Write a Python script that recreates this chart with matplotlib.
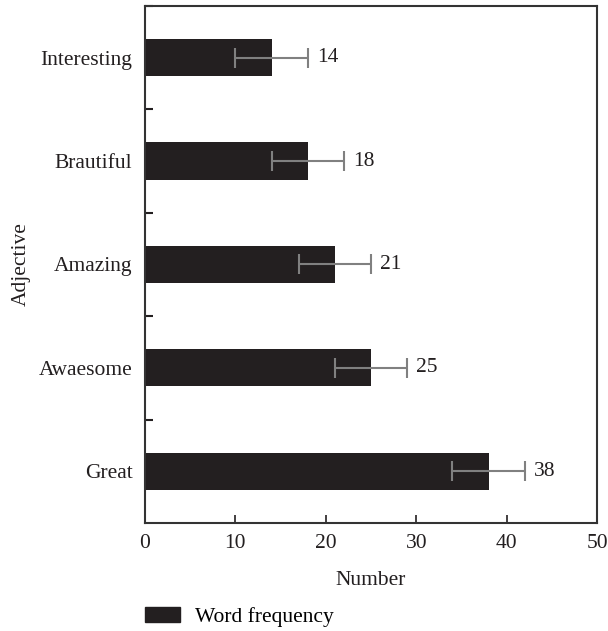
import matplotlib
matplotlib.use("Agg")
import matplotlib.pyplot as plt
from matplotlib.patches import Patch

plt.rcParams["font.family"] = ["Liberation Serif", "DejaVu Serif"]

adjectives = ["Great", "Awaesome", "Amazing", "Brautiful", "Interesting"]
frequency = [38, 25, 21, 18, 14]
errors = [4, 4, 4, 4, 4]

bar_color = "#231f20"
err_color = "#808080"
fs = 15.5

fig = plt.figure(figsize=(6.08, 6.31), dpi=100)
ax = fig.add_axes([0.2385, 0.1712, 0.7435, 0.8193])

pos = list(range(len(adjectives)))
ax.barh(pos, frequency, height=0.36, color=bar_color)
ax.errorbar(frequency, pos, xerr=errors, fmt="none", ecolor=err_color,
            elinewidth=1.5, capsize=7, capthick=1.5)

for y, v, e in zip(pos, frequency, errors):
    ax.text(v + e + 1.0, y, str(v), va="center", ha="left", fontsize=fs, color="#231f20")

ax.set_xlim(0, 50)
ax.set_ylim(-0.5, len(adjectives) - 0.5)
ax.set_xticks([0, 10, 20, 30, 40, 50])
ax.set_yticks(pos)
ax.set_yticklabels(adjectives)
ax.set_yticks([p + 0.5 for p in pos], minor=True)

ax.tick_params(axis="x", direction="in", length=6, width=1.2, labelsize=fs, colors="#231f20", pad=8)
ax.tick_params(axis="y", which="major", length=0, labelsize=fs, colors="#231f20", pad=9)
ax.tick_params(axis="y", which="minor", direction="in", length=6, width=1.5, colors="#231f20")

for s in ax.spines.values():
    s.set_linewidth(1.5)
    s.set_color("#333333")

ax.set_xlabel("Number", fontsize=fs, color="#231f20", labelpad=13)
ax.set_ylabel("Adjective", fontsize=fs, color="#231f20", labelpad=6)

handle = Patch(facecolor=bar_color, edgecolor=bar_color)
fig.legend([handle], ["Word frequency"], loc="center left",
           bbox_to_anchor=(145 / 608, 1 - 617 / 631),
           frameon=False, fontsize=fs, borderpad=0, borderaxespad=0,
           handlelength=1.63, handleheight=0.7, handletextpad=0.7)

fig.savefig("out.png", dpi=100)
